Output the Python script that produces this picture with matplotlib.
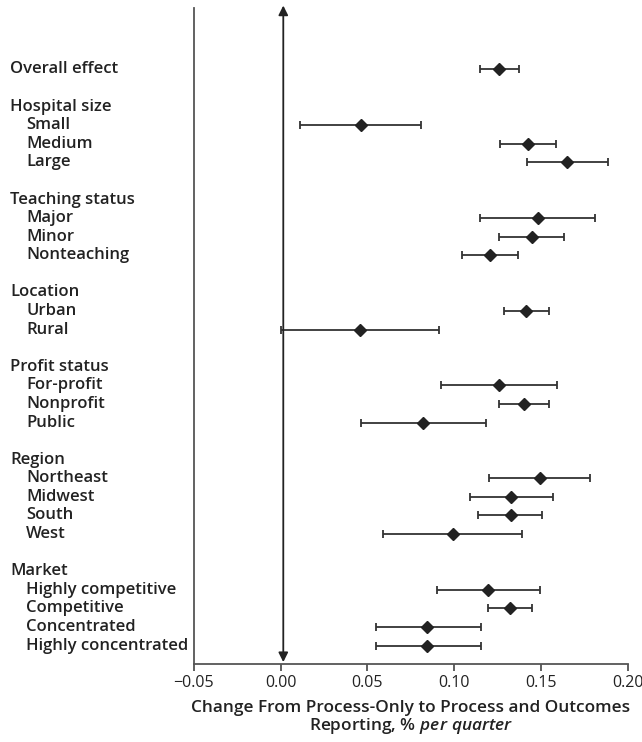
import matplotlib
matplotlib.use("Agg")
import matplotlib.pyplot as plt

plt.rcParams['font.family'] = ['Open Sans', 'DejaVu Sans']
plt.rcParams['mathtext.fontset'] = 'custom'
plt.rcParams['mathtext.rm'] = 'Open Sans:semibold'
plt.rcParams['mathtext.it'] = 'Open Sans:italic:semibold'

# row labels (None = blank spacer row), header rows flagged
labels = ["Overall effect", None,
          "Hospital size", "Small", "Medium", "Large", None,
          "Teaching status", "Major", "Minor", "Nonteaching", None,
          "Location", "Urban", "Rural", None,
          "Profit status", "For-profit", "Nonprofit", "Public", None,
          "Region", "Northeast", "Midwest", "South", "West", None,
          "Market", "Highly competitive", "Competitive", "Concentrated",
          "Highly concentrated"]
headers = ["Overall effect", "Hospital size", "Teaching status", "Location",
           "Profit status", "Region", "Market"]

# estimates and 95% CI for each labelled non-header row (plus overall)
est_names = ["Overall effect", "Small", "Medium", "Large", "Major", "Minor",
             "Nonteaching", "Urban", "Rural", "For-profit", "Nonprofit",
             "Public", "Northeast", "Midwest", "South", "West",
             "Highly competitive", "Competitive", "Concentrated",
             "Highly concentrated"]
est = [0.1257, 0.046, 0.1426, 0.1652, 0.148, 0.1449, 0.1205, 0.1412, 0.0456,
       0.1257, 0.1401, 0.0821, 0.1493, 0.1324, 0.1324, 0.099, 0.1195, 0.132,
       0.0845, 0.0845]
lo = [0.1151, 0.0111, 0.1263, 0.142, 0.1147, 0.1257, 0.1042, 0.1288, 0.0,
      0.0921, 0.1257, 0.0462, 0.1199, 0.109, 0.1138, 0.059, 0.0898, 0.1195,
      0.0547, 0.0547]
hi = [0.137, 0.0809, 0.1585, 0.1885, 0.1808, 0.1633, 0.1368, 0.1543, 0.0911,
      0.1591, 0.1543, 0.1182, 0.1781, 0.1566, 0.1505, 0.1389, 0.1493, 0.1447,
      0.1153, 0.1153]
xticks = [-0.05, 0.00, 0.05, 0.10, 0.15, 0.20]

fig = plt.figure(figsize=(6.42, 7.42), dpi=100)
ax = fig.add_axes([0.302, 0.105, 0.676, 0.884])

dark = "#222222"
ys = [labels.index(n) for n in est_names]
xerr = [[e - l for e, l in zip(est, lo)], [h - e for e, h in zip(est, hi)]]
ax.errorbar(est, ys, xerr=xerr, fmt='D', color=dark, ecolor="#333333",
            markersize=6.3, elinewidth=1.3, capsize=3, capthick=1.3)

# row labels in figure coordinates
for i, lab in enumerate(labels):
    if lab is None:
        continue
    xpos = 10 if lab in headers else 26
    ax.annotate(lab, xy=(0, i), xycoords=('figure pixels', 'data'),
                xytext=(xpos, 0), textcoords='offset pixels',
                ha='left', va='center', fontsize=12, fontweight='semibold',
                color=dark, annotation_clip=False)

# double-headed arrow at zero
ax.annotate("", xy=(0.0015, 1.004), xycoords=('data', 'axes fraction'),
            xytext=(0.0015, 0.003), textcoords=('data', 'axes fraction'),
            arrowprops=dict(arrowstyle='<|-|>', color=dark, lw=1.3,
                            mutation_scale=14, shrinkA=0, shrinkB=0),
            annotation_clip=False)

ax.set_xlim(-0.05, 0.20)
ax.set_ylim(32.0, -3.3)
ax.set_xticks(xticks)
ax.set_xticklabels([f"{t:.2f}".replace("-", "\u2212") for t in xticks])
ax.set_yticks([])
ax.tick_params(axis='x', direction='out', length=5, width=1.2, colors="#444444",
               labelsize=11.5, labelcolor=dark, pad=3)
for s in ['top', 'right']:
    ax.spines[s].set_visible(False)
for s in ['left', 'bottom']:
    ax.spines[s].set_color("#555555")
    ax.spines[s].set_linewidth(1.3)

ax.set_xlabel("Change From Process-Only to Process and Outcomes\n"
              r"Reporting, $\mathit{\%\ per\ quarter}$",
              fontsize=12.4, fontweight='semibold', color=dark, labelpad=6,
              linespacing=1.0)

fig.savefig("out.png", dpi=100)
